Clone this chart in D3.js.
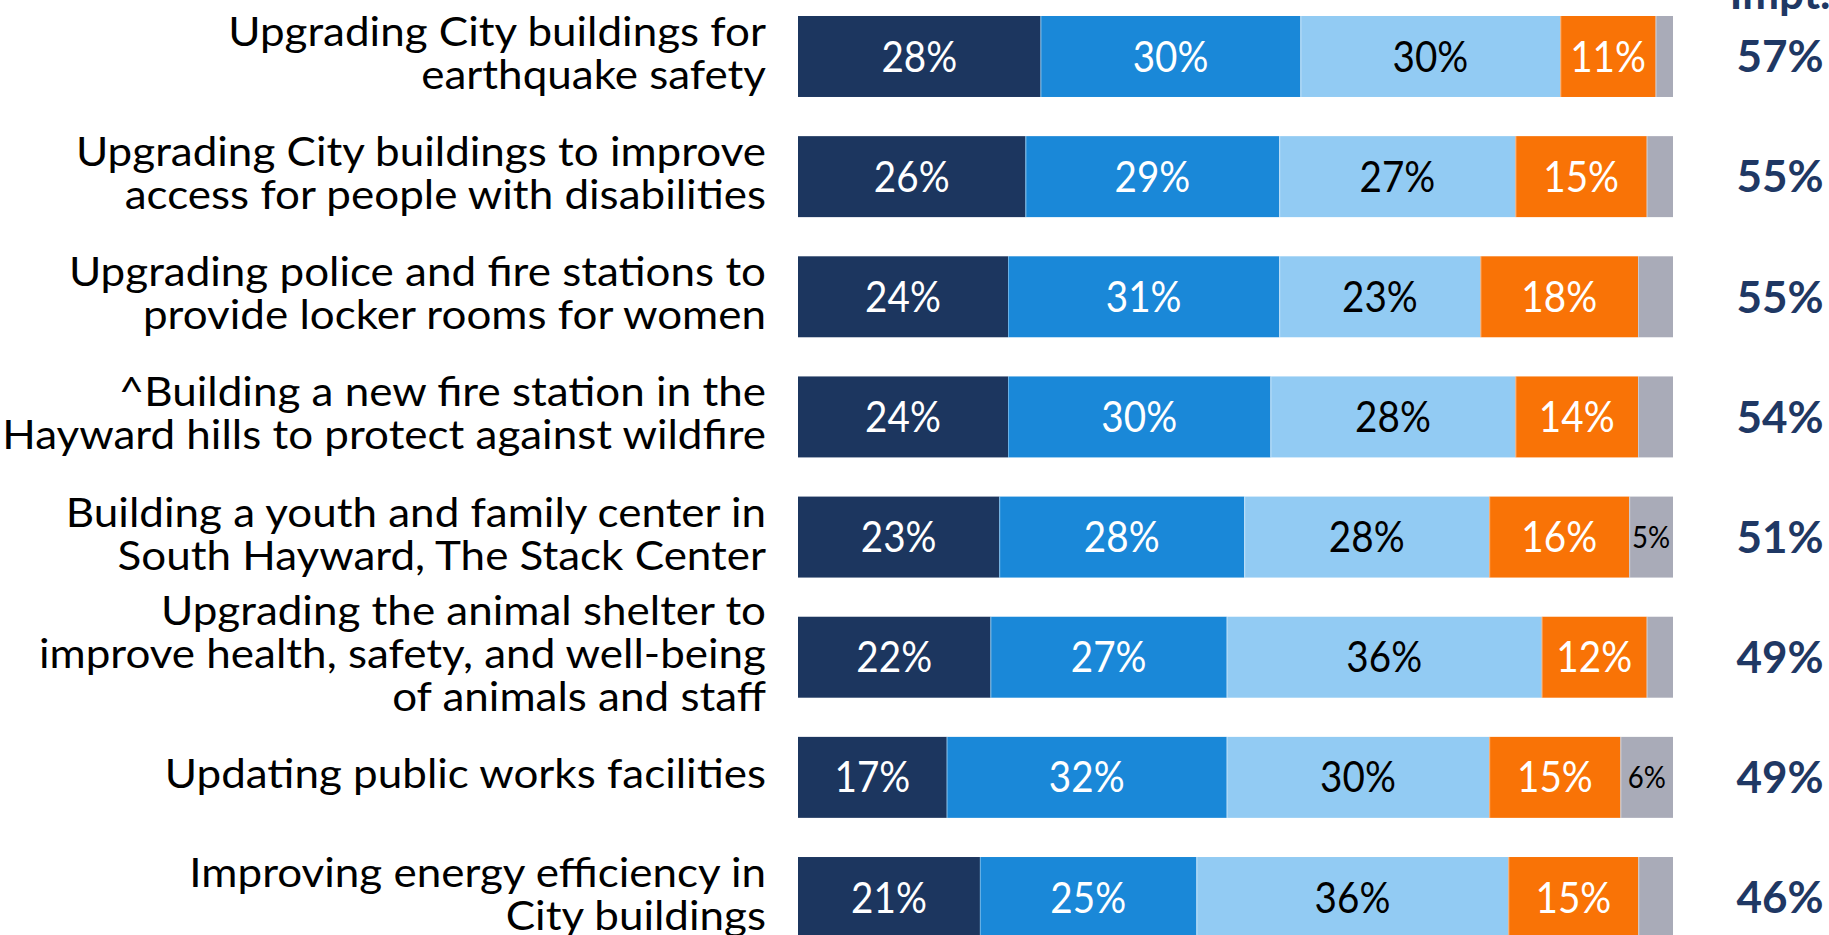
<!DOCTYPE html>
<html>
<head>
<meta charset="utf-8">
<script src="https://cdn.jsdelivr.net/npm/d3@7"></script>
<style>
  html, body { margin: 0; padding: 0; background: #fff; }
  svg { display: block; }
</style>
</head>
<body>
<svg id="chart" width="1829" height="935"></svg>
<script>
// ---------------- data ----------------
const categories = [
  ["Upgrading City buildings for", "earthquake safety"],
  ["Upgrading City buildings to improve", "access for people with disabilities"],
  ["Upgrading police and fire stations to", "provide locker rooms for women"],
  ["^Building a new fire station in the", "Hayward hills to protect against wildfire"],
  ["Building a youth and family center in", "South Hayward, The Stack Center"],
  ["Upgrading the animal shelter to", "improve health, safety, and well-being", "of animals and staff"],
  ["Updating public works facilities"],
  ["Improving energy efficiency in", "City buildings"]
];
const seriesNames = ["Extremely", "Very", "Somewhat", "Not", "DK/NA"];
const extremely = [28, 26, 24, 24, 23, 22, 17, 21];
const very      = [30, 29, 31, 30, 28, 27, 32, 25];
const somewhat  = [30, 27, 23, 28, 28, 36, 30, 36];
const notImp    = [11, 15, 18, 14, 16, 12, 15, 15];
const dkna      = [ 2,  3,  4,  4,  5,  3,  6,  4];
const totalImportant = [57, 55, 55, 54, 51, 49, 49, 46];
const headerText = "Impt.";

// ---------------- styles ----------------
const colors = ["#1c365f", "#1a88d8", "#92cbf3", "#f97306", "#a9abb8"];
const textColors = ["#ffffff", "#ffffff", "#000000", "#ffffff", "#000000"];
const FONT = "Lato, 'Open Sans', sans-serif";

const rows = categories.map((c, i) => ({
  key: i,
  Extremely: extremely[i], Very: very[i], Somewhat: somewhat[i], Not: notImp[i], "DK/NA": dkna[i]
}));

const svg = d3.select("#chart");

const x = d3.scaleLinear().domain([0, 1]).range([798, 1673]);
const y = d3.scaleBand().domain(d3.range(categories.length))
  .range([16, 938]).paddingInner(0.326).paddingOuter(0).align(0);

const stack = d3.stack().keys(seriesNames).offset(d3.stackOffsetExpand);
const stacked = stack(rows);

// bars
const layers = svg.append("g").selectAll("g.layer")
  .data(stacked).join("g").attr("class", "layer")
  .attr("fill", (d, i) => colors[i]);

layers.selectAll("rect")
  .data(d => d.map(p => ({p, key: d.key})))
  .join("rect")
  .attr("x", d => x(d.p[0]))
  .attr("y", d => y(d.p.data.key))
  .attr("width", d => x(d.p[1]) - x(d.p[0]))
  .attr("height", y.bandwidth());

// thin separators between segments
stacked.slice(1).forEach(layer => {
  svg.append("g").selectAll("line").data(layer).join("line")
    .attr("x1", d => x(d[0]) + 0.5).attr("x2", d => x(d[0]) + 0.5)
    .attr("y1", d => y(d.data.key)).attr("y2", d => y(d.data.key) + y.bandwidth())
    .attr("stroke", "#ffffff").attr("stroke-opacity", 0.35).attr("stroke-width", 1);
});

// segment labels (slightly condensed to mimic the original face)
stacked.forEach((layer, si) => {
  const isLast = si === seriesNames.length - 1;
  const fs = isLast ? 30 : 42;
  const g = svg.append("g");
  g.selectAll("text")
    .data(layer.filter(d => d.data[layer.key] >= 5))
    .join("text")
    .attr("transform", d => `translate(${(x(d[0]) + x(d[1])) / 2},${y(d.data.key) + y.bandwidth() / 2 + fs * 0.36}) scale(0.92,1)`)
    .attr("text-anchor", "middle")
    .attr("font-family", FONT)
    .attr("font-size", fs)
    .attr("fill", textColors[si])
    .text(d => d.data[layer.key] + "%");
});

// category labels (right aligned)
const labelFS = 40, lineH = 43, labelRight = 766;
const lg = svg.append("g");
const probe = lg.append("text").attr("font-family", FONT).attr("font-size", labelFS)
  .text("Hayward hills to protect against wildfire");
const probeW = probe.node().getComputedTextLength();
probe.remove();
const sx = 764 / probeW;
lg.attr("transform", `translate(${labelRight},0) scale(${sx},1)`);

categories.forEach((lines, i) => {
  const cy = y(i) + y.bandwidth() / 2;
  const n = lines.length;
  lg.selectAll(null).data(lines).join("text")
    .attr("x", 0)
    .attr("y", (l, j) => cy + (j - (n - 1) / 2) * lineH + 11)
    .attr("text-anchor", "end")
    .attr("font-family", FONT)
    .attr("font-size", labelFS)
    .attr("fill", "#000")
    .text(l => l);
});

// total important column
svg.append("g").selectAll("text").data(totalImportant).join("text")
  .attr("x", 1780)
  .attr("y", (d, i) => y(i) + y.bandwidth() / 2 + 44 * 0.36)
  .attr("text-anchor", "middle")
  .attr("font-family", FONT)
  .attr("font-weight", "bold")
  .attr("font-size", 44)
  .attr("fill", "#1f3864")
  .text(d => d + "%");

svg.append("text")
  .attr("x", 1780).attr("y", 9)
  .attr("text-anchor", "middle")
  .attr("font-family", FONT)
  .attr("font-weight", "bold")
  .attr("font-size", 44)
  .attr("fill", "#1f3864")
  .text(headerText);
</script>
</body>
</html>
